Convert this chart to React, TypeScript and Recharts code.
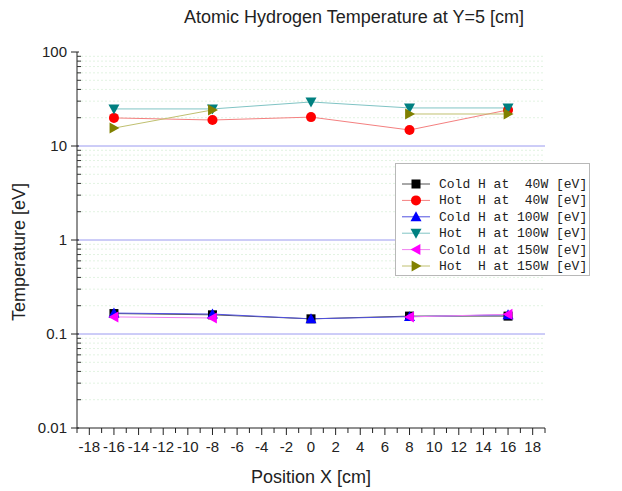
import React from 'react';
import { LineChart, Line, XAxis, YAxis, ReferenceLine } from 'recharts';

const positions = [-16, -8, 0, 8, 16];
const coldH40W = [0.165, 0.16, 0.145, 0.155, 0.155];
const hotH40W = [19.9, 18.9, 20.3, 14.8, 24.2];
const coldH100W = [0.167, 0.163, 0.145, 0.153, 0.16];
const hotH100W = [24.8, 24.8, 29.4, 25.4, 25.4];
const coldH150W = [0.152, 0.148, null, 0.152, 0.162];
const hotH150W = [15.5, 24.2, null, 21.9, 21.9];

const xTicks = [-19, -18, -17, -16, -15, -14, -13, -12, -11, -10, -9, -8, -7, -6, -5, -4, -3, -2, -1, 0, 1, 2, 3, 4, 5, 6, 7, 8, 9, 10, 11, 12, 13, 14, 15, 16, 17, 18, 19];
const xLabelTicks = [-18, -16, -14, -12, -10, -8, -6, -4, -2, 0, 2, 4, 6, 8, 10, 12, 14, 16, 18];
const yMajorTicks = [0.01, 0.1, 1, 10, 100];
const yMajorLabels = ['0.01', '0.1', '1', '10', '100'];
const yMinorTicks = [
  0.02, 0.03, 0.04, 0.05, 0.06, 0.07, 0.08, 0.09,
  0.2, 0.3, 0.4, 0.5, 0.6, 0.7, 0.8, 0.9,
  2, 3, 4, 5, 6, 7, 8, 9,
  20, 30, 40, 50, 60, 70, 80, 90,
];
const yGridMajor = [0.1, 1, 10];

const seriesNames = [
  'Cold H at  40W [eV]',
  'Hot  H at  40W [eV]',
  'Cold H at 100W [eV]',
  'Hot  H at 100W [eV]',
  'Cold H at 150W [eV]',
  'Hot  H at 150W [eV]',
];
const seriesKeys = ['c40', 'h40', 'c100', 'h100', 'c150', 'h150'];
const seriesValues = [coldH40W, hotH40W, coldH100W, hotH100W, coldH150W, hotH150W];
const seriesColors = ['#000000', '#ff0000', '#0000ff', '#008080', '#ff00ff', '#808000'];
const seriesLineColors = ['#505050', '#f48080', '#5050e0', '#80c4c4', '#f080f0', '#c0c070'];
const seriesShapes = ['square', 'circle', 'up', 'down', 'left', 'right'];

const data = positions.map((x, i) => {
  const row: any = { x };
  seriesKeys.forEach((k, j) => {
    row[k] = seriesValues[j][i];
  });
  return row;
});

const FONT = '"Liberation Sans", Arial, sans-serif';

function Marker({ kind, cx, cy, color }: { kind: string; cx: number; cy: number; color: string }) {
  const s = 5.5;
  switch (kind) {
    case 'square':
      return <rect x={cx - 4.5} y={cy - 4.5} width={9} height={9} fill={color} />;
    case 'circle':
      return <circle cx={cx} cy={cy} r={5} fill={color} />;
    case 'up':
      return <polygon points={`${cx},${cy - s} ${cx - s},${cy + s * 0.8} ${cx + s},${cy + s * 0.8}`} fill={color} />;
    case 'down':
      return <polygon points={`${cx},${cy + s} ${cx - s},${cy - s * 0.8} ${cx + s},${cy - s * 0.8}`} fill={color} />;
    case 'left':
      return <polygon points={`${cx - s},${cy} ${cx + s * 0.8},${cy - s} ${cx + s * 0.8},${cy + s}`} fill={color} />;
    default:
      return <polygon points={`${cx + s},${cy} ${cx - s * 0.8},${cy - s} ${cx - s * 0.8},${cy + s}`} fill={color} />;
  }
}

function YTick(props: any) {
  const { x, y, payload } = props;
  const v = payload.value;
  const idx = yMajorTicks.indexOf(v);
  if (idx >= 0) {
    return (
      <g>
        <line x1={x - 6} x2={x + 2} y1={y} y2={y} stroke="#222" />
        <text x={x - 10} y={y + 5} textAnchor="end" fontSize={15} fontFamily={FONT} fill="#222">
          {yMajorLabels[idx]}
        </text>
      </g>
    );
  }
  return <line x1={x} x2={x + 4} y1={y} y2={y} stroke="#333" />;
}

function XTick(props: any) {
  const { x, y, payload } = props;
  const v = payload.value;
  const major = xLabelTicks.indexOf(v) >= 0;
  return (
    <g>
      <line x1={x} x2={x} y1={y} y2={y + (major ? 7 : 5)} stroke="#222" />
      {major && (
        <text x={x} y={y + 24} textAnchor="middle" fontSize={15} fontFamily={FONT} fill="#222">
          {String(v)}
        </text>
      )}
    </g>
  );
}

export default function App() {
  return (
    <div style={{ position: 'absolute', left: 0, top: 0, width: 622, height: 491, background: '#fff' }}>
      <LineChart
        width={622}
        height={491}
        data={data}
        margin={{ top: 52, right: 77, bottom: 0, left: 0 }}
      >
        {yMinorTicks.map((v) => (
          <ReferenceLine key={'m' + v} y={v} stroke="#e2f3e2" strokeDasharray="2 2" ifOverflow="hidden" />
        ))}
        {yGridMajor.map((v) => (
          <ReferenceLine key={'g' + v} y={v} stroke="#9a9af0" strokeWidth={1} />
        ))}
        <XAxis
          dataKey="x"
          type="number"
          domain={[-19, 19]}
          ticks={xTicks}
          interval={0}
          tick={<XTick />}
          tickLine={false}
          tickSize={0}
          tickMargin={0}
          axisLine={{ stroke: '#222' }}
          height={63}
          allowDataOverflow
        />
        <YAxis
          type="number"
          scale="log"
          domain={[0.01, 100]}
          ticks={[...yMajorTicks, ...yMinorTicks]}
          interval={0}
          tick={<YTick />}
          tickLine={false}
          tickSize={0}
          tickMargin={0}
          axisLine={{ stroke: '#222' }}
          width={77}
          allowDataOverflow
        />
        {seriesKeys.map((k, j) => (
          <Line
            key={k}
            dataKey={k}
            name={seriesNames[j]}
            stroke={seriesLineColors[j]}
            strokeWidth={1}
            isAnimationActive={false}
            connectNulls={false}
            dot={(p: any) => {
              if (p.cx == null || p.cy == null || p.value == null) return <g key={k + p.index} />;
              return (
                <g key={k + p.index}>
                  <Marker kind={seriesShapes[j]} cx={p.cx} cy={p.cy} color={seriesColors[j]} />
                </g>
              );
            }}
            activeDot={false}
          />
        ))}
      </LineChart>
      <svg
        width={622}
        height={491}
        style={{ position: 'absolute', left: 0, top: 0, pointerEvents: 'none' }}
      >
        <text x={354} y={23} textAnchor="middle" fontSize={18} fontFamily={FONT} fill="#222">
          Atomic Hydrogen Temperature at Y=5 [cm]
        </text>
        <text x={311} y={483} textAnchor="middle" fontSize={18} fontFamily={FONT} fill="#222">
          Position X [cm]
        </text>
        <text
          transform="translate(25,252) rotate(-90)"
          textAnchor="middle"
          fontSize={18}
          fontFamily={FONT}
          fill="#222"
        >
          Temperature [eV]
        </text>
        <rect x={395.5} y={163.5} width={194} height={112} fill="#fff" stroke="#b8b8b8" />
        {seriesNames.map((n, j) => {
          const cy = 184 + j * 16.4;
          return (
            <g key={n}>
              <line x1={402} x2={430} y1={cy} y2={cy} stroke={seriesLineColors[j]} />
              <Marker kind={seriesShapes[j]} cx={416} cy={cy} color={seriesColors[j]} />
              <text
                x={439}
                y={cy + 4}
                fontSize={13}
                fontFamily='"Liberation Mono", "Courier New", monospace'
                fill="#222"
                style={{ whiteSpace: 'pre' }}
              >
                {n}
              </text>
            </g>
          );
        })}
      </svg>
    </div>
  );
}
